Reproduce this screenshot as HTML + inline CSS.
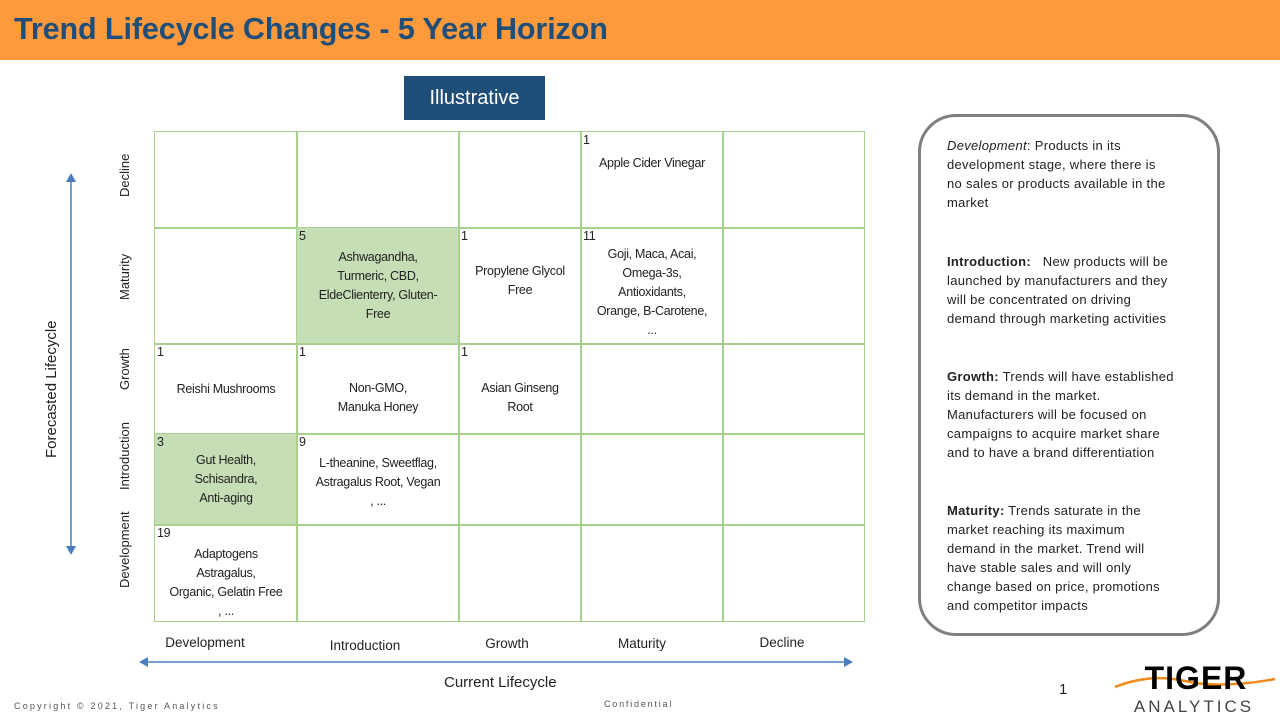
<!DOCTYPE html>
<html><head><meta charset="utf-8"><style>
body{margin:0;width:1280px;height:720px;position:relative;background:#fff;font-family:"Liberation Sans",sans-serif;overflow:hidden;color:#222}
.a{position:absolute}
.hdr{left:0;top:0;width:1280px;height:60px;background:#FF9A3C}
.ttl{left:14px;top:12px;font-size:30.5px;font-weight:bold;color:#1F4E79;letter-spacing:-0.1px}
.ill{left:404px;top:76px;width:141px;height:44px;background:#1F4E79;color:#fff;font-size:20px;text-align:center;line-height:44px}
.c{position:absolute;border:1.5px solid #A9D18E;box-sizing:border-box;font-size:12.5px;letter-spacing:-0.3px;text-align:center;line-height:19px;display:flex;align-items:center;justify-content:center}
.c .n{position:absolute;left:2px;top:1px;line-height:14px}
.g{background:#C5DEB5}
.rl{font-size:13px;transform:rotate(-90deg);transform-origin:left top;white-space:nowrap}
.cl{font-size:13.5px;text-align:center;width:140px}
.box{left:918px;top:114px;width:302px;height:522px;border:3px solid #7f7f7f;border-radius:38px;box-sizing:border-box}
.bt{left:947px;font-size:13px;letter-spacing:0.3px;line-height:19px;width:260px;white-space:nowrap}
</style></head><body>
<div class="a hdr"></div>
<div class="a ttl">Trend Lifecycle Changes - 5 Year Horizon</div>
<div class="a ill">Illustrative</div>

<div class="c" style="left:154px;top:131px;width:144px;height:98px"></div>
<div class="c" style="left:296px;top:131px;width:164px;height:98px"></div>
<div class="c" style="left:458px;top:131px;width:124px;height:98px"></div>
<div class="c" style="left:580px;top:131px;width:144px;height:98px;align-items:flex-start;padding-top:22px"><span class="n">1</span>Apple Cider Vinegar</div>
<div class="c" style="left:722px;top:131px;width:143px;height:98px"></div>

<div class="c" style="left:154px;top:227px;width:144px;height:118px"></div>
<div class="c g" style="left:296px;top:227px;width:164px;height:118px"><span class="n">5</span>Ashwagandha,<br>Turmeric, CBD,<br>EldeClienterry, Gluten-<br>Free</div>
<div class="c" style="left:458px;top:227px;width:124px;height:118px;align-items:flex-start;padding-top:34px"><span class="n">1</span>Propylene Glycol<br>Free</div>
<div class="c" style="left:580px;top:227px;width:144px;height:118px;padding-top:12px"><span class="n">11</span>Goji, Maca, Acai,<br>Omega-3s,<br>Antioxidants,<br>Orange, B-Carotene,<br>...</div>
<div class="c" style="left:722px;top:227px;width:143px;height:118px"></div>

<div class="c" style="left:154px;top:343px;width:144px;height:92px"><span class="n">1</span>Reishi Mushrooms</div>
<div class="c" style="left:296px;top:343px;width:164px;height:92px;padding-top:18px"><span class="n">1</span>Non-GMO,<br>Manuka Honey</div>
<div class="c" style="left:458px;top:343px;width:124px;height:92px;padding-top:18px"><span class="n">1</span>Asian Ginseng<br>Root</div>
<div class="c" style="left:580px;top:343px;width:144px;height:92px"></div>
<div class="c" style="left:722px;top:343px;width:143px;height:92px"></div>

<div class="c g" style="left:154px;top:433px;width:144px;height:93px"><span class="n">3</span>Gut Health,<br>Schisandra,<br>Anti-aging</div>
<div class="c" style="left:296px;top:433px;width:164px;height:93px;align-items:flex-start;padding-top:20px"><span class="n">9</span>L-theanine, Sweetflag,<br>Astragalus Root, Vegan<br>, ...</div>
<div class="c" style="left:458px;top:433px;width:124px;height:93px"></div>
<div class="c" style="left:580px;top:433px;width:144px;height:93px"></div>
<div class="c" style="left:722px;top:433px;width:143px;height:93px"></div>

<div class="c" style="left:154px;top:524px;width:144px;height:98px;align-items:flex-start;padding-top:20px"><span class="n">19</span>Adaptogens<br>Astragalus,<br>Organic, Gelatin Free<br>, ...</div>
<div class="c" style="left:296px;top:524px;width:164px;height:98px"></div>
<div class="c" style="left:458px;top:524px;width:124px;height:98px"></div>
<div class="c" style="left:580px;top:524px;width:144px;height:98px"></div>
<div class="c" style="left:722px;top:524px;width:143px;height:98px"></div>

<div class="a rl" style="left:117px;top:197px">Decline</div>
<div class="a rl" style="left:117px;top:300px">Maturity</div>
<div class="a rl" style="left:117px;top:390px">Growth</div>
<div class="a rl" style="left:117px;top:490px">Introduction</div>
<div class="a rl" style="left:117px;top:588px">Development</div>
<div class="a rl" style="left:43px;top:458px;font-size:15px">Forecasted Lifecycle</div>
<svg class="a" style="left:60px;top:170px" width="22" height="390"><line x1="11" y1="8" x2="11" y2="380" stroke="#4A7EBB" stroke-width="1.5"/><path d="M6,12 L11,3 L16,12Z M6,376 L11,385 L16,376Z" fill="#4A7EBB"/></svg>

<div class="a cl" style="left:135px;top:635px">Development</div>
<div class="a cl" style="left:295px;top:638px">Introduction</div>
<div class="a cl" style="left:437px;top:636px">Growth</div>
<div class="a cl" style="left:572px;top:636px">Maturity</div>
<div class="a cl" style="left:712px;top:635px">Decline</div>
<svg class="a" style="left:136px;top:654px" width="720" height="16"><line x1="8" y1="8" x2="712" y2="8" stroke="#4A7EBB" stroke-width="1.5"/><path d="M12,3 L3,8 L12,13Z M708,3 L717,8 L708,13Z" fill="#4A7EBB"/></svg>
<div class="a" style="left:444px;top:674px;font-size:15px">Current Lifecycle</div>

<div class="a box"></div>
<div class="a bt" style="top:136px"><i>Development</i>: Products in its<br>development stage, where there is<br>no sales or products available in the<br>market</div>
<div class="a bt" style="top:252px"><b>Introduction:</b>&nbsp;&nbsp; New products will be<br>launched by manufacturers and they<br>will be concentrated on driving<br>demand through marketing activities</div>
<div class="a bt" style="top:367px"><b>Growth:</b> Trends will have established<br>its demand in the market.<br>Manufacturers will be focused on<br>campaigns to acquire market share<br>and to have a brand differentiation</div>
<div class="a bt" style="top:501px"><b>Maturity:</b> Trends saturate in the<br>market reaching its maximum<br>demand in the market. Trend will<br>have stable sales and will only<br>change based on price, promotions<br>and competitor impacts</div>

<div class="a" style="left:14px;top:701px;font-size:9px;letter-spacing:2.2px;color:#555">Copyright © 2021, Tiger Analytics</div>
<div class="a" style="left:604px;top:699px;font-size:9px;letter-spacing:1.8px;color:#555">Confidential</div>
<div class="a" style="left:1059px;top:681px;font-size:15px">1</div>
<svg class="a" style="left:1110px;top:655px" width="170" height="60"><path d="M5,32 Q40,18 75,26 T165,24" stroke="#F08A1C" stroke-width="2.5" fill="none"/><text x="86" y="34" text-anchor="middle" font-family="Liberation Sans" font-weight="bold" font-size="32" fill="#000" letter-spacing="1">TIGER</text><text x="84" y="57" text-anchor="middle" font-family="Liberation Sans" font-size="17" fill="#444" letter-spacing="3">ANALYTICS</text></svg>
</body></html>
